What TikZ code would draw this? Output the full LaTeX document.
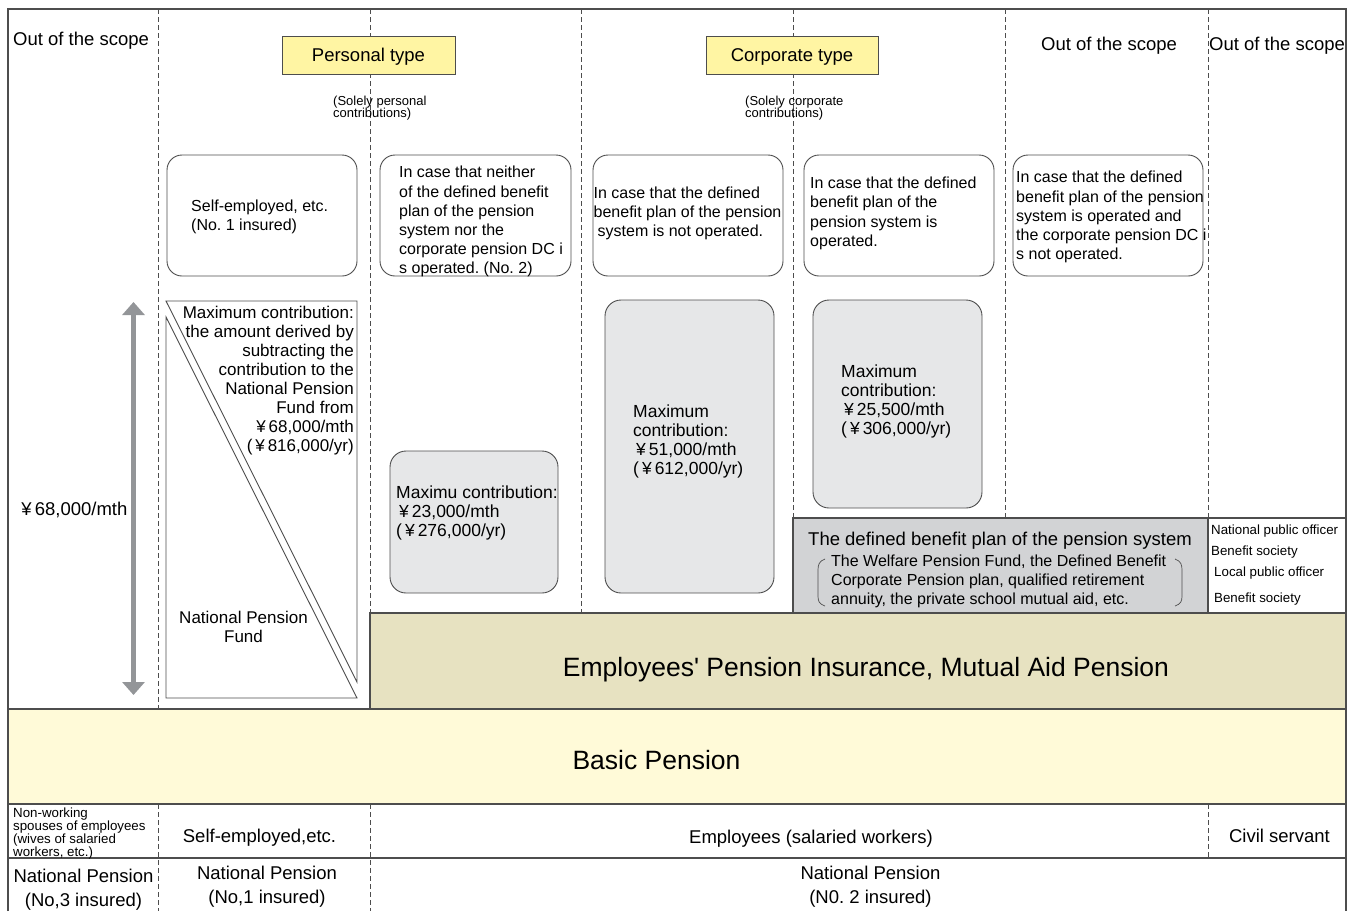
\documentclass[tikz,border=0pt]{standalone}
\usepackage{fontspec}
\setmainfont{Liberation Sans}
\newfontfamily\plainsans{Liberation Sans}
\usetikzlibrary{arrows.meta}
\frenchspacing
\lineskiplimit=-20pt

\definecolor{linegray}{HTML}{4D4D4D}
\definecolor{typeyellow}{HTML}{FFF5A3}
\definecolor{epikhaki}{HTML}{E7E2C1}
\definecolor{basicyellow}{HTML}{FFFAD8}
\definecolor{maxgray}{HTML}{E6E7E8}
\definecolor{dbgray}{HTML}{D2D3D5}
\definecolor{arrowgray}{HTML}{939598}

\newcommand{\yensign}{\makebox[0.9em]{¥}}

\tikzset{
  gridline/.style = {draw=linegray, line width=1.2pt},
  colsep/.style   = {draw=linegray, line width=0.8pt, dash pattern=on 5pt off 3pt},
  casebox/.style  = {draw=linegray, line width=0.9pt, rounded corners=15pt},
  maxbox/.style   = {draw=linegray, line width=0.9pt, fill=maxgray, rounded corners=16pt},
  typebox/.style  = {draw=linegray, line width=0.9pt, fill=typeyellow, minimum height=38pt,
                     inner sep=0pt, text height=13.5pt, text depth=0pt,
                     font=\fontsize{18.5}{22}\selectfont},
  lbltxt/.style   = {inner sep=0pt, align=center, font=\fontsize{18.5}{24}\selectfont},
  bandtxt/.style  = {inner sep=0pt, font=\fontsize{26.5}{30}\selectfont},
  casetxt/.style  = {inner sep=0pt, anchor=west, align=left, font=\fontsize{16}{19.2}\selectfont},
  maxtxt/.style   = {inner sep=0pt, anchor=west, align=left, font=\fontsize{17.5}{18.9}\selectfont},
  notetxt/.style  = {inner sep=0pt, anchor=west, align=left,
                     font={\fontsize{13}{12.5}\selectfont\lineskiplimit=-20pt}},
  celltxt/.style  = {inner sep=0pt, anchor=west, font=\fontsize{13.3}{16}\selectfont},
}

\begin{document}
\begin{tikzpicture}[x=1pt, y=-1pt]
  \useasboundingbox (0,0) rectangle (1355,911);

  % column separators
  \foreach \cx/\cy in {158/709, 370/613, 581/613, 793/518, 1005/518, 1208/518}
    \draw[colsep] (\cx,9) -- (\cx,\cy);
  \foreach \cx/\ca/\cb in {158/804/911, 370/804/911, 1208/804/858}
    \draw[colsep] (\cx,\ca) -- (\cx,\cb);

  % bands and frame
  \draw[gridline, fill=epikhaki] (370,613) rectangle (1346,709);
  \draw[gridline, fill=dbgray] (793,518) rectangle (1208,613);
  \draw[gridline, fill=white] (1208,518) rectangle (1346,613);
  \draw[gridline, fill=basicyellow] (8,709) rectangle (1346,804);
  \draw[gridline] (8,858) -- (1346,858);
  \draw[gridline] (8,911) -- (8,9) -- (1346,9) -- (1346,911);

  \foreach \xa/\xb in {167/357, 380/571, 593/783, 804/994, 1013/1203}
    \draw[casebox, fill=white] (\xa,155) rectangle (\xb,276);

  \draw[maxbox] (390,451) rectangle (558,593);
  \draw[maxbox] (605,300) rectangle (774,593);
  \draw[maxbox] (813,300) rectangle (982,508);

  % national pension fund split
  \draw[draw=linegray, line width=0.9pt, fill=white] (166,301) -- (357,301) -- (357,682) -- cycle;
  \draw[draw=linegray, line width=0.9pt, fill=white] (166,317) -- (166,698) -- (357,698) -- cycle;

  \coordinate (captop) at (133.5,302);
  \coordinate (capbot) at (133.5,695);
  \draw[arrowgray, line width=5pt,
        {Triangle[width=22pt,length=13pt]}-{Triangle[width=22pt,length=13pt]}] (captop) -- (capbot);

  % brackets round the list
  \draw[linegray, line width=0.7pt] (825,559) .. controls (819,561) and (818,565) .. (818,570)
    -- (818,596) .. controls (818,601) and (819,604) .. (825,606);
  \draw[linegray, line width=0.7pt] (1175,559) .. controls (1181,561) and (1182,565) .. (1182,570)
    -- (1182,596) .. controls (1182,601) and (1181,604) .. (1175,606);

  \node[typebox, minimum width=173pt] (personal) at (368.5,55) {Personal type};
  \node[typebox, minimum width=172pt] (corporate) at (792,55) {Corporate type};
  \node[notetxt] (solelyP) at (333,108.3) {(Solely personal\\contributions)};
  \node[notetxt] (solelyC) at (745,108.3) {(Solely corporate\\contributions)};
  \node[lbltxt, anchor=west] (scopeA) at (13,40.8) {Out of the scope};
  \node[lbltxt] (scopeB) at (1109,45.8) {Out of the scope};
  \node[lbltxt, anchor=west] (scopeC) at (1209,45.8) {Out of the scope};

  \node[casetxt] (caseA) at (191,216.6) {Self-employed, etc.\\(No. 1 insured)};
  \node[casetxt] (caseB) at (399,221.7) {In case that neither\\of the defined benefit\\plan of the pension\\system nor the\\corporate pension DC i\\s operated. (No. 2)};
  \node[casetxt] (caseC) at (593.5,213.6) {In case that the defined\\benefit plan of the pension\\\hspace*{4pt}system is not operated.};
  \node[casetxt] (caseD) at (810,213.4) {In case that the defined\\benefit plan of the\\pension system is\\operated.};
  \node[casetxt] (caseE) at (1016,217.2) {In case that the defined\\benefit plan of the pension\\system is operated and\\the corporate pension DC i\\s not operated.};

  \node[maxtxt] (maxA) at (396,512.8) {Maximu contribution:\\\yensign23,000/mth\\(\yensign276,000/yr)};
  \node[maxtxt] (maxB) at (633,441.8) {Maximum\\contribution:\\\yensign51,000/mth\\(\yensign612,000/yr)};
  \node[maxtxt] (maxC) at (841,401.3) {Maximum\\contribution:\\\yensign25,500/mth\\(\yensign306,000/yr)};

  \node[maxtxt, anchor=east, align=right, font=\fontsize{17}{19}\selectfont] (npfmax) at (354,380.4)
    {Maximum contribution:\\the amount derived by\\subtracting the\\contribution to the\\National Pension\\Fund from\\\yensign68,000/mth\\(\yensign816,000/yr)};
  \node[maxtxt, anchor=center, align=center, font=\fontsize{17}{19}\selectfont] (npf) at (243.5,627.3) {National Pension\\Fund};
  \node[lbltxt, anchor=west] (cap68) at (18,510) {\yensign68,000/mth};

  \node[lbltxt] (dbtitle) at (1000,541) {The defined benefit plan of the pension system};
  \node[casetxt, font=\fontsize{16}{19}\selectfont] (dblist) at (831,581.7)
    {The Welfare Pension Fund, the Defined Benefit\\Corporate Pension plan, qualified retirement\\annuity, the private school mutual aid, etc.};
  \node[celltxt] (npo) at (1211,531.3) {National public officer};
  \node[celltxt] (nbs) at (1211,552.3) {Benefit society};
  \node[celltxt] (lpo) at (1214,573.3) {Local public officer};
  \node[celltxt] (lbs) at (1214,599) {Benefit society};

  \node[bandtxt] (epi) at (866,669.6) {Employees{\plainsans'} Pension Insurance, Mutual Aid Pension};
  \node[bandtxt] (basic) at (656.5,760) {Basic Pension};

  \node[notetxt, font={\fontsize{13.3}{13.2}\selectfont\lineskiplimit=-20pt}] (spouse) at (13,833.5)
    {Non-working\\spouses of employees\\(wives of salaried\\workers, etc.)};
  \node[lbltxt] (selfemp) at (259.5,838) {Self-employed,etc.};
  \node[lbltxt] (employees) at (811,838.5) {Employees (salaried workers)};
  \node[lbltxt] (civil) at (1279.5,836) {Civil servant};
  \node[lbltxt] (np3) at (83.5,889.9) {National Pension\\(No,3 insured)};
  \node[lbltxt] (np1) at (267,886.3) {National Pension\\(No,1 insured)};
  \node[lbltxt] (np2) at (870.5,887) {National Pension\\(N0. 2 insured)};
\end{tikzpicture}
\end{document}
